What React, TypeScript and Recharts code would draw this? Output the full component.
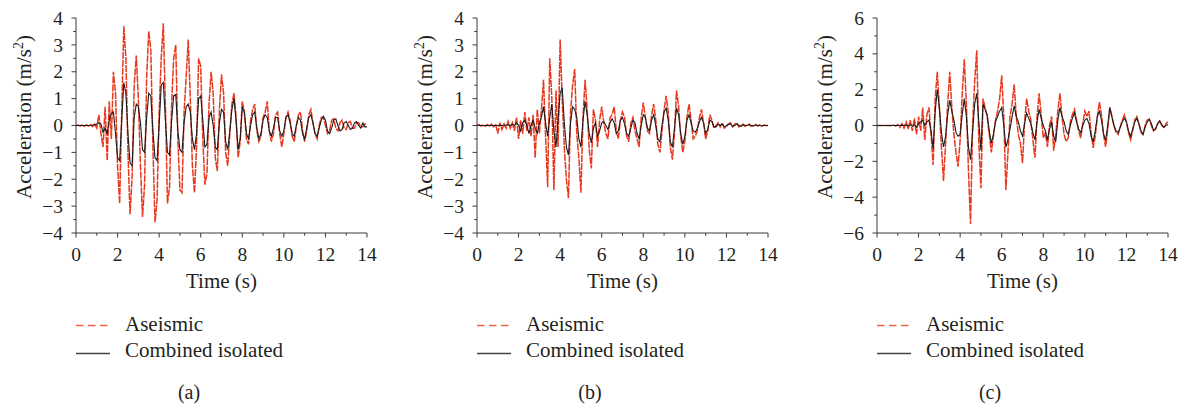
import { LineChart, Line, XAxis, YAxis } from "recharts";

// sample spacing of the records (s)
const STEP = 0.1;

const X_TICKS = [0, 1, 2, 3, 4, 5, 6, 7, 8, 9, 10, 11, 12, 13, 14];
const Y_TICKS_AB = [-4, -3.5, -3, -2.5, -2, -1.5, -1, -0.5, 0, 0.5, 1, 1.5, 2, 2.5, 3, 3.5, 4];
const Y_TICKS_C = [-6, -5, -4, -3, -2, -1, 0, 1, 2, 3, 4, 5, 6];

// (a) aseismic / combined isolated, t = 0 .. 14 s
const AS_A = [
  0, 0.02, -0.02, 0.03, -0.03, 0.02, -0.02, 0.03, -0.04, 0.05,
  -0.1, 0.4, -0.3, -0.8, 0.7, -1.3, 0.9, -0.5, 2.0, 1.2,
  -1.5, -2.9, 0.5, 3.7, 2.5, -1.0, -3.3, -1.9, 1.5, 2.6,
  1.0, -1.5, -3.4, -2.2, 1.8, 3.5, 2.8, -0.8, -3.6, -2.8,
  0.5, 2.5, 3.8, 0.8, -2.9, -2.3, 0.8, 2.5, 3.0, -0.5,
  -2.4, -2.5, 0.5, 1.8, 3.2, 1.0, -1.5, -2.5, -0.8, 2.5,
  2.2, -0.5, -2.2, -1.8, 0.8, 2.0, 1.2, -1.2, -1.7, 0.6,
  1.9, 1.2, -1.0, -1.5, -0.3, 0.8, 1.2, 0.3, -1.2, -0.6,
  0.9, 0.5, -0.5, -0.7, 0.2, 0.6, 0.8, -0.2, -0.6, -0.4,
  0.3, 0.5, 0.9, -0.2, -0.6, -0.3, 0.4, 0.5, -0.3, -0.8,
  -0.3, 0.3, 0.5, 0.2, -0.4, -0.6, 0.0, 0.4, 0.5, -0.2,
  -0.6, -0.2, 0.4, 0.6, 0.1, -0.3, -0.5, 0.0, 0.3, 0.3,
  0.0, -0.3, -0.2, 0.2, 0.25, -0.1, -0.2, 0.1, 0.2, -0.1,
  -0.15, 0.1, 0.15, -0.1, -0.1, 0.1, 0.1, -0.05, -0.05, 0.05,
  0.08,
];
const CI_A = [
  0, 0, 0, 0, 0, 0, 0, 0, 0.02, 0.03,
  0.05, 0.1, 0.05, -0.25, -0.1, -0.3, 0.2, 0.45, 0.5, -0.3,
  -1.2, -1.3, 0.2, 1.6, 1.2, -0.3, -1.4, -1.5, 0.3, 0.8,
  0.7, 0.1, -0.9, -1.0, 0.3, 1.2, 1.1, -0.2, -1.2, -1.3,
  0.0, 1.5, 1.6, 0.2, -1.0, -1.1, 0.2, 1.1, 1.15, -0.2,
  -0.9, -1.0, 0.1, 0.7, 0.8, 0.5, -0.5, -0.9, -0.3, 1.0,
  1.1, 0.2, -0.8, -0.7, 0.3, 0.5, 0.0, -0.8, -0.9, 0.1,
  0.6, 0.5, -0.6, -0.9, -0.2, 0.6, 1.0, 0.2, -0.9, -0.5,
  0.7, 0.5, -0.3, -0.5, 0.0, 0.4, 0.5, -0.1, -0.5, -0.3,
  0.2, 0.4, 0.3, -0.2, -0.4, -0.1, 0.3, 0.3, -0.2, -0.4,
  -0.2, 0.3, 0.4, 0.1, -0.3, -0.4, 0.0, 0.3, 0.2, -0.3,
  -0.5, -0.1, 0.3, 0.4, 0.1, -0.3, -0.4, -0.1, 0.2, 0.35,
  0.2, -0.2, -0.3, -0.1, 0.2, 0.25, 0.0, -0.2, -0.15, 0.1,
  0.15, 0.0, -0.15, -0.1, 0.1, 0.15, 0.0, -0.1, 0.1, -0.05,
  -0.05,
];

// (b)
const AS_B = [
  0, 0.03, -0.02, 0.02, -0.03, 0.04, -0.02, 0.05, -0.05, 0.03,
  -0.3, 0.1, -0.15, 0.05, -0.1, 0.15, -0.1, 0.1, -0.2, 0.3,
  -0.5, 0.2, -0.3, 0.5, -0.2, 0.3, -0.4, 0.4, -1.2, 0.6,
  -0.3, 0.6, 1.7, -0.4, -2.3, 2.5, 1.0, -2.4, 1.3, -0.8,
  3.2, 1.0, -0.8, -2.0, -2.7, 0.5, 1.5, 2.1, -0.3, -1.2,
  -2.5, 0.3, 1.7, 0.6, -0.9, -1.6, 0.6, 0.2, -0.8, 0.2,
  0.7, 0.1, -0.3, -0.5, 0.3, 0.4, 0.7, -0.2, -0.5, 0.2,
  0.5, 0.3, -0.4, -0.6, 0.1, 0.3, -0.2, -0.5, -0.8, 0.3,
  0.85, 0.3, -0.2, -0.3, 0.4, 0.8, 0.2, -0.7, -1.0, -0.2,
  0.6, 1.1, 0.5, -0.8, -1.27, -0.3, 1.3, 0.7, -0.4, -1.0,
  -0.6, 0.3, 0.8, 0.2, -0.5, -0.4, -0.2, 0.3, 0.6, 0.1,
  -0.5, -0.2, 0.4, 0.2, -0.1, 0.0, 0.1, -0.05, 0.1, -0.1,
  -0.05, 0.05, 0.1, -0.05, 0.05, 0.1, -0.05, 0.0, 0.05, -0.03,
  0.02, 0.05, -0.03, 0.0, 0.04, -0.02, 0.02, -0.03, 0.02, 0.0,
  0.0,
];
const CI_B = [
  0, 0, 0, 0, 0, 0, 0, 0, 0, 0,
  0, 0.01, 0, 0.02, 0, 0.03, 0, 0.05, 0, 0.1,
  0.0, -0.2, 0.1, 0.2, 0.0, -0.3, 0.0, 0.2, -0.1, -0.3,
  0.1, 0.3, 0.7, 0.1, -0.4, 0.3, 0.8, -0.2, -0.8, 0.2,
  1.2, 1.4, 0.1, -0.8, -1.1, 0.1, 0.7, 0.6, 0.3, -0.5,
  -0.8, 0.2, 0.9, 0.4, -0.3, -0.65, -0.1, 0.1, -0.4, -0.2,
  0.1, 0.15, 0.0, -0.15, 0.1, 0.25, 0.1, -0.3, -0.2, 0.2,
  0.3, 0.05, -0.3, -0.4, -0.1, 0.2, 0.1, -0.3, -0.5, 0.0,
  0.4, 0.3, -0.1, -0.2, 0.2, 0.4, 0.0, -0.5, -0.6, 0.0,
  0.5, 0.65, 0.2, -0.6, -0.8, -0.1, 0.65, 0.4, -0.3, -0.7,
  -0.4, 0.2, 0.4, 0.1, -0.2, -0.25, -0.1, 0.15, 0.3, 0.1,
  -0.3, -0.15, 0.2, 0.15, -0.05, -0.05, 0.05, 0.0, 0.05, -0.05,
  0.0, 0.05, 0.05, -0.03, 0.0, 0.05, 0.0, -0.03, 0.03, 0.0,
  0.0, 0.03, 0.0, -0.02, 0.02, 0.0, 0.0, -0.02, 0.0, 0.0,
  0.0,
];

// (c)
const AS_C = [
  0, 0, 0, 0, 0, 0, 0, 0, 0.02, -0.03,
  0.05, -0.1, 0.1, -0.15, 0.2, -0.2, 0.3, -0.3, 0.4, -0.5,
  0.5, -0.3, 1.0, -0.8, 0.6, 1.0, -0.5, -2.2, 1.5, 3.0,
  1.0, -1.2, -3.1, -1.0, 1.2, 3.0, 1.0, -0.5, -1.5, -2.3,
  -0.8, 1.8, 3.7, 1.2, -2.5, -5.5, 0.0, 2.5, 4.2, -1.0,
  -3.5, 1.5, 1.0, 0.5, -0.5, -1.5, -0.6, 0.3, 0.8, 1.5,
  2.8, 0.5, -3.6, -1.5, 0.5, 1.2, 2.3, 0.5, -0.5, -1.0,
  -2.1, 0.2, 1.5, 0.8, 0.3, -0.8, -1.8, 0.5, 1.8, 0.6,
  -0.7, -0.4, -1.2, 0.0, 0.5, -1.4, -0.5, 0.8, 1.8, 0.5,
  -0.5, -0.9, -0.7, 0.2, 0.6, 0.9, 0.3, -0.3, -0.7, 0.1,
  0.8, 0.5, 0.8, -0.4, -1.25, -0.6, 0.5, 1.3, 0.6, -0.5,
  -1.2, -0.2, 1.0, 0.5, 0.0, -0.4, -0.5, -0.1, 0.3, 0.6,
  0.2, -0.4, -0.8, -0.3, 0.3, 0.5, 0.1, -0.4, -0.5, 0.0,
  0.3, 0.35, 0.0, -0.3, -0.2, 0.1, 0.25, 0.0, -0.1, 0.1,
  0.2,
];
const CI_C = [
  0, 0, 0, 0, 0, 0, 0, 0, 0, 0,
  0, 0, 0.02, 0, 0.03, -0.02, 0.05, -0.05, 0.05, -0.1,
  0.1, 0.2, 0.3, 0.0, 0.2, 0.3, -0.3, -1.3, 0.8, 2.0,
  1.0, -0.4, -1.2, -0.6, 0.6, 1.4, 0.8, 0.3, -0.4, -0.6,
  -0.5, 0.6, 1.5, 0.5, -1.2, -1.9, -0.3, 1.2, 1.8, 0.2,
  -1.4, 1.2, 0.9, 0.6, -0.3, -1.0, -0.5, 0.2, 0.5, 0.8,
  1.0, 0.0, -1.2, -0.8, -0.2, 0.5, 1.1, 0.5, 0.2, -0.3,
  -0.6, 0.1, 0.7, 0.4, 0.1, -0.4, -0.8, 0.2, 0.9, 0.4,
  0.0, -0.3, -0.8, -0.2, 0.2, -0.6, -0.9, 0.3, 1.0, 0.5,
  0.2, -0.3, -0.5, 0.0, 0.4, 0.7, 0.2, -0.2, -0.4, 0.0,
  0.3, 0.4, 0.1, -0.6, -0.9, -0.3, 0.5, 0.8, 0.3, -0.5,
  -0.8, 0.0, 1.0, 0.5, 0.0, -0.3, -0.4, -0.1, 0.2, 0.4,
  0.2, -0.3, -0.6, -0.2, 0.2, 0.4, 0.1, -0.3, -0.5, -0.1,
  0.2, 0.35, 0.1, -0.25, -0.2, 0.1, 0.25, 0.05, -0.1, 0.0,
  0.05,
];

const FONT =
  '"Liberation Serif", Tinos, "Times New Roman", Times, "Noto Serif", "DejaVu Serif", Georgia, serif';
const INK = "#231f20";
const AXIS = "#3a3a3a";
const RED = "#e8381e";
const BLACK = "#1c1c1c";

const fmt = (v: number) => (v < 0 ? `\u2212${Math.abs(v)}` : `${v}`);

const toRows = (as: number[], ci: number[]) =>
  as.map((v, i) => ({ t: +(i * STEP).toFixed(1), as: v, ci: ci[i] }));

const txt = (size: number) => ({ fontFamily: FONT, fontSize: size, fill: INK });

function XTick(props: any) {
  const { x, y, payload } = props;
  const v = payload.value as number;
  const major = v % 2 === 0;
  return (
    <g>
      <line x1={x} x2={x} y1={y} y2={y + (major ? 4.5 : 2.8)} stroke={AXIS} strokeWidth={1} />
      {major && (
        <text x={x} y={y + 27.5} textAnchor="middle" style={txt(19.5)}>
          {fmt(v)}
        </text>
      )}
    </g>
  );
}

function YTick(props: any) {
  const { x, y, payload, every } = props;
  const v = payload.value as number;
  const major = Math.abs(v % every) < 1e-9;
  return (
    <g>
      <line x1={x - (major ? 4.5 : 2.8)} x2={x} y1={y} y2={y} stroke={AXIS} strokeWidth={1} />
      {major && (
        <text x={x - 13} y={y} dy="0.34em" textAnchor="end" style={txt(19.5)}>
          {fmt(v)}
        </text>
      )}
    </g>
  );
}

interface PanelProps {
  left: number;
  as: number[];
  ci: number[];
  yMax: number;
  yTicks: number[];
  every: number;
}

function Panel({ left, as, ci, yMax, yTicks, every }: PanelProps) {
  const rows = toRows(as, ci);
  return (
    <div style={{ position: "absolute", left, top: 0 }}>
      <LineChart width={387} height={270} data={rows} margin={{ top: 18, right: 20, left: 0, bottom: 0 }}>
        <XAxis
          dataKey="t"
          type="number"
          domain={[0, 14]}
          ticks={X_TICKS}
          interval={0}
          height={37}
          tickSize={0}
          tickMargin={0}
          tickLine={false}
          axisLine={{ stroke: AXIS }}
          tick={<XTick />}
        />
        <YAxis
          type="number"
          domain={[-yMax, yMax]}
          ticks={yTicks}
          interval={0}
          width={76}
          tickSize={0}
          tickMargin={0}
          tickLine={false}
          axisLine={{ stroke: AXIS }}
          tick={<YTick every={every} />}
        />
        <Line
          dataKey="as"
          type="linear"
          stroke={RED}
          strokeWidth={1.5}
          strokeDasharray="7 1"
          dot={false}
          isAnimationActive={false}
        />
        <Line
          dataKey="ci"
          type="linear"
          stroke={BLACK}
          strokeWidth={1.1}
          dot={false}
          isAnimationActive={false}
        />
      </LineChart>
    </div>
  );
}

const PANELS = [
  { left: 0, plot: 76, as: AS_A, ci: CI_A, yMax: 4, yTicks: Y_TICKS_AB, every: 1, tag: "(a)" },
  { left: 401, plot: 477, as: AS_B, ci: CI_B, yMax: 4, yTicks: Y_TICKS_AB, every: 1, tag: "(b)" },
  { left: 801, plot: 877, as: AS_C, ci: CI_C, yMax: 6, yTicks: Y_TICKS_C, every: 2, tag: "(c)" },
];

export default function App() {
  return (
    <div style={{ position: "absolute", left: 0, top: 0, width: 1188, height: 405, background: "#fff" }}>
      {PANELS.map((p) => (
        <Panel key={p.tag} left={p.left} as={p.as} ci={p.ci} yMax={p.yMax} yTicks={p.yTicks} every={p.every} />
      ))}
      <svg width={1188} height={405} style={{ position: "absolute", left: 0, top: 0, pointerEvents: "none" }}>
        {PANELS.map((p) => (
          <g key={p.tag}>
            <text transform={`translate(${p.plot - 45},117) rotate(-90)`} textAnchor="middle" style={txt(21)}>
              Acceleration (m/s
              <tspan dy={-8} style={{ fontSize: 14 }}>2</tspan>
              <tspan dy={8}>)</tspan>
            </text>
            <text x={p.plot + 145.5} y={288} textAnchor="middle" style={txt(21)}>
              Time (s)
            </text>
            <line
              x1={p.plot}
              x2={p.plot + 32}
              y1={325.5}
              y2={325.5}
              stroke="#f0604c"
              strokeWidth={1.3}
              strokeDasharray="7.5 4.5"
            />
            <text x={p.plot + 49} y={330.5} style={txt(21)}>
              Aseismic
            </text>
            <line x1={p.plot} x2={p.plot + 34} y1={353.5} y2={353.5} stroke="#444" strokeWidth={1.3} />
            <text x={p.plot + 49} y={357} style={txt(21)}>
              Combined isolated
            </text>
            <text x={p.plot + 113} y={399} textAnchor="middle" style={txt(20)}>
              {p.tag}
            </text>
          </g>
        ))}
      </svg>
    </div>
  );
}
